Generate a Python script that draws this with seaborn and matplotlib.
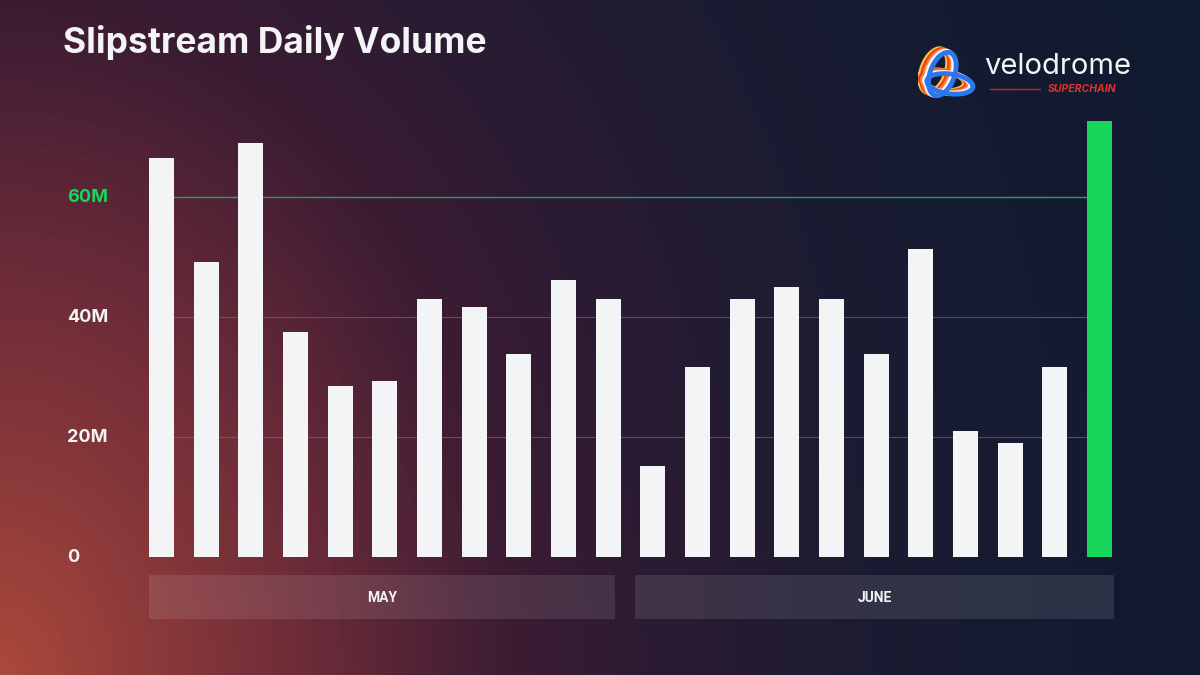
import numpy as np
import pandas as pd
import seaborn as sns
import matplotlib.pyplot as plt
from matplotlib.colors import LinearSegmentedColormap
from matplotlib.patches import Rectangle, Ellipse
import matplotlib.transforms as mtransforms

# -------------------- data --------------------
day = list(range(1, 23))
month = ["MAY"] * 11 + ["JUNE"] * 11
volume_m = [66.5, 49.2, 69.0, 37.5, 28.5, 29.3, 43.0, 41.7, 33.8, 46.2, 43.0,
            15.2, 31.7, 43.0, 45.0, 43.0, 33.8, 51.3, 21.0, 19.0, 31.7, 72.7]
highlight = [False] * 21 + [True]
yticks = [0, 20, 40, 60]
ytick_labels = ["0", "20M", "40M", "60M"]

df = pd.DataFrame({"day": day, "month": month, "volume": volume_m, "highlight": highlight})

WHITE = "#f3f4f6"
GREEN = "#16d65c"

sns.set_theme(style="white")
plt.rcParams["font.family"] = ["Inter", "DejaVu Sans"]

fig = plt.figure(figsize=(12, 6.75), dpi=100)

# -------------------- background gradient --------------------
bg = fig.add_axes([0, 0, 1, 1], zorder=-10)
W, H = 1200, 675
xx, yy = np.meshgrid(np.arange(W), np.arange(H))
dist = np.sqrt((1.3 * xx) ** 2 + (H - yy) ** 2)
dist = dist / dist.max()
bg_cmap = LinearSegmentedColormap.from_list("bg", [
    (0.0, "#ab483a"), (0.12, "#8a393a"), (0.25, "#682a38"), (0.39, "#3c1c33"),
    (0.5, "#2b1b32"), (0.68, "#1a1b32"), (0.85, "#141b31"), (1.0, "#0f1a2f")])
bg.imshow(dist, cmap=bg_cmap, vmin=0, vmax=1, aspect="auto", extent=[0, W, H, 0])
bg.set_axis_off()

# -------------------- bars --------------------
ax = fig.add_axes([139.2 / W, 118 / H, 982.6 / W, 450 / H])
ax.set_facecolor("none")
palette = {False: WHITE, True: GREEN}
sns.barplot(data=df, x="day", y="volume", hue="highlight", palette=palette,
            width=0.56, legend=False, ax=ax, zorder=3, saturation=1, linewidth=0)
ax.set_xlim(-0.5, len(day) - 0.5)
ax.set_ylim(0, 75)

for y in yticks:
    if y == 60:
        ax.axhline(y, color="#2a9a5a", lw=1.0, zorder=1, xmin=0.01, xmax=0.98)
    else:
        ax.axhline(y, color="#8a6878", lw=0.8, alpha=0.6, zorder=1, xmin=0.01, xmax=0.98)

ax.set_yticks([])
ax.set_xticks([])
ax.set_xlabel("")
ax.set_ylabel("")
sns.despine(ax=ax, left=True, bottom=True)

# y labels in figure pixel space, left aligned
trans = mtransforms.blended_transform_factory(fig.transFigure, ax.transData)
for y, lab in zip(yticks, ytick_labels):
    ax.text(67 / W, y, lab, transform=trans, ha="left", va="center",
            fontsize=13, fontweight="bold",
            color=GREEN if y == 60 else WHITE)

# month boxes
btrans = mtransforms.blended_transform_factory(ax.transData, fig.transFigure)
for m in ["MAY", "JUNE"]:
    idx = [i for i, mm in enumerate(month) if mm == m]
    if m == "MAY":
        left, right = idx[0] - 0.28, idx[-1] + 0.15
    else:
        left, right = idx[0] - 0.40, idx[-1] + 0.33
    ax.add_patch(Rectangle((left, (H - 619) / H), right - left, 44 / H,
                           transform=btrans, facecolor="white", alpha=0.1,
                           edgecolor="none", clip_on=False))
    ax.text((left + right) / 2, (H - 598) / H, m, transform=btrans,
            ha="center", va="center", fontsize=10, fontweight="bold",
            color=WHITE, family=["Roboto", "DejaVu Sans"], fontstretch="condensed")

# -------------------- title --------------------
fig.text(63 / W, (H - 42) / H, "Slipstream Daily Volume", ha="left", va="center",
         fontsize=25.5, fontweight="bold", color=WHITE)

# -------------------- logo --------------------
fig.text(984 / W, (H - 67) / H, "velodrome", ha="left", va="center",
         fontsize=21, color=WHITE)
fig.text(1117 / W, (H - 89) / H, "SUPERCHAIN", ha="right", va="center",
         fontsize=7.5, fontweight="bold", fontstyle="italic", color="#e0322b")
fig.add_artist(plt.Line2D([990 / W, 1040 / W], [(H - 89) / H] * 2, color="#c42a25", lw=1))

lg = fig.add_axes([918 / W, (H - 103) / H, 58 / W, 58 / H])
lg.set_xlim(0, 1)
lg.set_ylim(0, 1)
lg.set_axis_off()
for k, c in enumerate(["#f5c542", "#ef3a26", "#f4822d", "#f5f5f5"]):
    off = 0.035 * (4 - k)
    lg.add_patch(Ellipse((0.42 - off, 0.5 + off * 0.4), 0.42, 0.78, angle=-20,
                         fill=False, lw=4, edgecolor=c))
    lg.add_patch(Ellipse((0.55 - off, 0.33 + off * 0.4), 0.8, 0.34, angle=-8,
                         fill=False, lw=4, edgecolor=c))
lg.add_patch(Ellipse((0.42, 0.5), 0.42, 0.78, angle=-20, fill=False, lw=3.5, edgecolor="#2c76f0"))
lg.add_patch(Ellipse((0.55, 0.33), 0.8, 0.34, angle=-8, fill=False, lw=3.5, edgecolor="#2c76f0"))

fig.savefig("out.png", dpi=100)
